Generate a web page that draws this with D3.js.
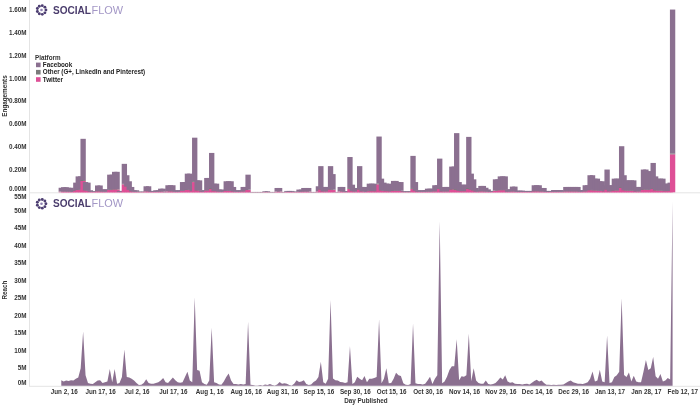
<!DOCTYPE html>
<html><head><meta charset="utf-8">
<script src="https://cdn.jsdelivr.net/npm/d3@7"></script>
<style>
body{margin:0;background:#fff}
svg{display:block;will-change:transform}
text{font-family:"Liberation Sans",Arial,sans-serif;-webkit-font-smoothing:antialiased}
</style>
</head><body>
<svg id="c" width="700" height="405"></svg>
<script>
// ---------- DATA (values in millions) ----------
const startDate = "2016-06-01"; // first Day Published; one value per consecutive day
const platforms = ["Facebook", "Other (G+, LinkedIn and Pinterest)", "Twitter"];
const facebook = [
0.033,0.037,0.037,0.033,0.033,0.016,0.071,0.116,0.116,0.362,
0.073,0.071,0.013,0.006,0.006,0.05,0.05,0.02,0.02,0.02,
0.131,0.131,0.151,0.151,0.008,0.008,0.176,0.096,0.075,0.037,
0.013,0.013,0.003,0.003,0.003,0.043,0.043,0.008,0.008,0.013,
0.013,0.024,0.024,0.002,0.052,0.052,0.052,0.013,0.013,0.013,
0.076,0.076,0.14,0.14,0.048,0.382,0.086,0.086,0.013,0.013,
0.107,0.107,0.308,0.064,0.064,0.02,0.018,0.018,0.083,0.083,
0.083,0.038,0.013,0.013,0.013,0.038,0.038,0.131,0.001,0.001,
0.001,0.001,0.001,0.001,0.006,0.006,0.001,0.001,0.001,0.03,
0.03,0.001,0.001,0.008,0.008,0.008,0.003,0.003,0.019,0.019,
0.03,0.03,0.03,0.001,0.001,0.001,0.043,0.201,0.038,0.038,
0.038,0.201,0.136,0.001,0.001,0.038,0.038,0.007,0.007,0.272,
0.055,0.03,0.03,0.201,0.038,0.038,0.011,0.064,0.064,0.064,
0.051,0.412,0.101,0.071,0.064,0.064,0.038,0.084,0.084,0.076,
0.076,0.006,0.006,0.006,0.006,0.282,0.076,0.013,0.013,0.013,
0.015,0.025,0.025,0.025,0.052,0.052,0.262,0.03,0.038,0.038,
0.038,0.197,0.197,0.492,0.076,0.055,0.055,0.055,0.449,0.14,
0.095,0.03,0.013,0.046,0.046,0.032,0.021,0.008,0.008,0.098,
0.098,0.118,0.118,0.118,0.021,0.021,0.041,0.041,0.011,0.011,
0.011,0.008,0.008,0.008,0.008,0.052,0.052,0.052,0.03,0.03,
0.008,0.008,0.008,0.015,0.015,0.015,0.015,0.006,0.038,0.038,
0.038,0.038,0.038,0.038,0.015,0.015,0.052,0.052,0.128,0.128,
0.101,0.101,0.083,0.083,0.05,0.171,0.052,0.052,0.101,0.101,
0.101,0.357,0.128,0.088,0.088,0.088,0.088,0.038,0.038,0.038,
0.174,0.174,0.161,0.161,0.224,0.12,0.102,0.102,0.102,0.064,
0.064,0.072,1.264];
const other = [
0.002,0.002,0.002,0.002,0.002,0.001,0.002,0.004,0.004,0.008,
0.002,0.002,0.001,0.001,0.001,0.002,0.002,0.001,0.001,0.001,
0.004,0.004,0.004,0.004,0.001,0.001,0.004,0.004,0.002,0.002,
0.001,0.001,0.001,0.001,0.001,0.002,0.002,0.001,0.001,0.001,
0.001,0.002,0.002,0.001,0.002,0.002,0.002,0.001,0.001,0.001,
0.002,0.002,0.004,0.004,0.002,0.008,0.004,0.004,0.001,0.001,
0.004,0.004,0.008,0.002,0.002,0.001,0.001,0.001,0.002,0.002,
0.002,0.002,0.001,0.001,0.001,0.002,0.002,0.004,0.001,0.001,
0.001,0.001,0.001,0.001,0.001,0.001,0.001,0.001,0.001,0.002,
0.002,0.001,0.001,0.001,0.001,0.001,0.001,0.001,0.001,0.001,
0.002,0.002,0.002,0.001,0.001,0.001,0.002,0.004,0.002,0.002,
0.002,0.004,0.004,0.001,0.001,0.002,0.002,0.001,0.001,0.008,
0.002,0.002,0.002,0.004,0.002,0.002,0.001,0.002,0.002,0.002,
0.002,0.008,0.004,0.002,0.002,0.002,0.002,0.004,0.004,0.002,
0.002,0.001,0.001,0.001,0.001,0.008,0.002,0.001,0.001,0.001,
0.001,0.002,0.002,0.002,0.002,0.002,0.004,0.002,0.002,0.002,
0.002,0.004,0.004,0.008,0.002,0.002,0.002,0.002,0.008,0.004,
0.004,0.002,0.001,0.002,0.002,0.002,0.001,0.001,0.001,0.004,
0.004,0.004,0.004,0.004,0.001,0.001,0.002,0.002,0.001,0.001,
0.001,0.001,0.001,0.001,0.001,0.002,0.002,0.002,0.002,0.002,
0.001,0.001,0.001,0.001,0.001,0.001,0.001,0.001,0.002,0.002,
0.002,0.002,0.002,0.002,0.001,0.001,0.002,0.002,0.004,0.004,
0.004,0.004,0.002,0.002,0.002,0.004,0.002,0.002,0.004,0.004,
0.004,0.008,0.004,0.004,0.004,0.004,0.004,0.002,0.002,0.002,
0.004,0.004,0.004,0.004,0.004,0.004,0.004,0.004,0.004,0.002,
0.002,0.002,0.008];
const twitter = [
0.005,0.006,0.006,0.005,0.005,0.003,0.012,0.02,0.02,0.10,
0.015,0.012,0.004,0.003,0.003,0.008,0.008,0.005,0.005,0.005,
0.02,0.02,0.025,0.025,0.003,0.003,0.07,0.05,0.02,0.008,
0.004,0.004,0.002,0.002,0.002,0.008,0.008,0.003,0.003,0.004,
0.004,0.006,0.006,0.001,0.008,0.008,0.008,0.004,0.004,0.004,
0.012,0.012,0.02,0.02,0.01,0.09,0.015,0.015,0.004,0.004,
0.015,0.015,0.03,0.01,0.01,0.005,0.004,0.004,0.012,0.012,
0.012,0.007,0.004,0.004,0.004,0.007,0.007,0.02,0.001,0.001,
0.001,0.001,0.001,0.001,0.002,0.002,0.001,0.001,0.001,0.006,
0.006,0.001,0.001,0.003,0.003,0.003,0.002,0.002,0.004,0.004,
0.006,0.006,0.006,0.001,0.001,0.001,0.008,0.025,0.007,0.007,
0.007,0.025,0.02,0.001,0.001,0.007,0.007,0.002,0.002,0.03,
0.01,0.006,0.006,0.025,0.007,0.007,0.003,0.01,0.01,0.01,
0.009,0.07,0.015,0.012,0.01,0.01,0.007,0.012,0.012,0.012,
0.012,0.002,0.002,0.002,0.002,0.03,0.012,0.004,0.004,0.004,
0.004,0.005,0.005,0.005,0.008,0.008,0.03,0.006,0.007,0.007,
0.007,0.025,0.025,0.02,0.012,0.01,0.01,0.01,0.03,0.02,
0.015,0.006,0.004,0.008,0.008,0.006,0.004,0.003,0.003,0.012,
0.012,0.018,0.018,0.018,0.004,0.004,0.007,0.007,0.003,0.003,
0.003,0.003,0.003,0.003,0.003,0.008,0.008,0.008,0.006,0.006,
0.003,0.003,0.003,0.004,0.004,0.004,0.004,0.002,0.007,0.007,
0.007,0.007,0.007,0.007,0.004,0.004,0.008,0.008,0.018,0.018,
0.015,0.015,0.012,0.012,0.008,0.025,0.008,0.008,0.015,0.015,
0.015,0.04,0.018,0.013,0.013,0.013,0.013,0.007,0.007,0.007,
0.022,0.022,0.02,0.02,0.03,0.016,0.014,0.014,0.014,0.01,
0.01,0.011,0.334];
const reach = [
1.6,1.2,1.5,1.4,1.6,1.5,2.0,2.4,5.0,15.5,
3.0,0.8,0.6,0.5,1.0,1.5,1.6,0.8,1.0,1.2,
4.8,1.0,4.8,0.6,0.8,2.5,10.4,2.5,2.4,2.0,
1.5,0.8,0.2,0.3,0.8,1.9,0.8,0.6,0.6,0.8,
1.0,1.5,2.2,1.0,0.8,1.6,2.4,1.6,1.0,0.9,
1.0,2.5,4.0,1.5,1.0,25.3,4.5,4.3,1.0,0.5,
0.3,1.5,16.6,1.0,0.8,0.4,0.3,1.2,2.5,3.5,
1.5,0.5,0.5,0.4,0.5,0.4,0.5,18.3,0.3,0.2,
0.1,0.1,0.2,0.1,0.4,0.2,0.5,0.2,0.1,0.4,
1.1,0.6,0.7,0.6,0.2,0.1,0.6,1.6,1.1,1.2,
1.6,0.5,0.2,0.4,1.1,1.5,2.5,6.9,1.0,0.6,
2.0,24.5,2.1,1.6,1.5,1.1,1.0,0.8,1.0,11.3,
0.5,1.0,2.6,2.0,1.6,2.8,1.0,2.0,2.0,2.2,
2.5,19.0,0.7,2.0,5.0,0.7,0.8,2.0,3.7,3.0,
2.8,0.7,0.3,0.2,0.5,17.8,0.7,0.5,0.5,0.4,
0.6,1.5,2.6,0.5,2.0,3.0,47.0,0.7,1.2,2.6,
4.5,5.6,5.6,13.3,1.6,2.7,2.6,3.0,14.9,1.3,
5.0,1.5,0.8,0.6,0.6,1.5,0.5,0.4,0.5,0.8,
1.5,2.4,1.8,3.0,1.2,0.9,1.0,0.6,0.5,0.5,
0.4,0.5,0.6,0.4,0.9,1.4,1.7,1.2,1.5,0.8,
0.3,0.3,0.2,0.3,0.2,0.3,0.3,0.4,0.8,1.2,
1.5,1.0,0.8,0.6,0.6,0.5,0.7,1.0,2.0,4.1,
1.2,1.5,4.6,1.2,1.0,14.4,0.8,1.0,2.5,3.0,
4.0,25.0,3.1,2.5,3.8,1.2,2.9,1.2,1.0,1.0,
4.0,7.4,4.5,5.0,8.2,2.7,2.0,3.4,1.2,1.5,
2.2,1.8,52.7];
const engagementTicks = [0, 0.2, 0.4, 0.6, 0.8, 1.0, 1.2, 1.4, 1.6];
const reachTicks = [0, 5, 10, 15, 20, 25, 30, 35, 40, 45, 50, 55];
const dateTicks = ["2016-06-02","2016-06-17","2016-07-02","2016-07-17","2016-08-01","2016-08-16",
  "2016-08-31","2016-09-15","2016-09-30","2016-10-15","2016-10-30","2016-11-14","2016-11-29",
  "2016-12-14","2016-12-29","2017-01-13","2017-01-28","2017-02-12"];

// ---------- STYLE ----------
const colors = {"Facebook": "#8b7090", "Other (G+, LinkedIn and Pinterest)": "#7a7a7a", "Twitter": "#de4f96"};
const axisGrey = "#e4e4e4", labelCol = "#333";

const svg = d3.select("#c");
const parse = d3.utcParse("%Y-%m-%d");
const t0 = parse(startDate);
const DAY = 864e5;
const rows = facebook.map((v, i) => ({
  date: d3.utcDay.offset(t0, i),
  "Facebook": v, "Other (G+, LinkedIn and Pinterest)": other[i], "Twitter": twitter[i]
}));

const x = d3.scaleUtc()
  .domain([new Date(t0.getTime() - 13.31 * DAY), new Date(t0.getTime() + 263.3 * DAY)])
  .range([29, 700]);
const dayPx = x(d3.utcDay.offset(t0, 1)) - x(t0);
const barW = dayPx * 2.2;

const yE = d3.scaleLinear().domain([0, 1.69]).range([192.3, 0]);
const yR = d3.scaleLinear().domain([0, 55]).range([385.8, 193.3]);

// axis rules
svg.append("line").attr("x1", 29.5).attr("x2", 29.5).attr("y1", 0).attr("y2", 386).attr("stroke", axisGrey);
svg.append("line").attr("x1", 29).attr("x2", 700).attr("y1", 192.8).attr("y2", 192.8).attr("stroke", axisGrey);
svg.append("line").attr("x1", 29).attr("x2", 700).attr("y1", 386.3).attr("y2", 386.3).attr("stroke", axisGrey);

// ---------- TOP: stacked bars ----------
const keys = ["Twitter", "Other (G+, LinkedIn and Pinterest)", "Facebook"];
const stacked = d3.stack().keys(keys)(rows);
const dayG = svg.append("g").selectAll("g").data(rows).join("g");
dayG.each(function(r, i) {
  const g = d3.select(this);
  stacked.forEach(layer => {
    const s = layer[i];
    g.append("rect")
      .attr("x", x(r.date) - barW / 2)
      .attr("width", barW)
      .attr("y", yE(s[1]))
      .attr("height", Math.max(0, yE(s[0]) - yE(s[1])))
      .attr("fill", colors[layer.key]);
  });
});

// ---------- BOTTOM: reach area ----------
const area = d3.area()
  .x((d, i) => x(d3.utcDay.offset(t0, i)))
  .y0(yR(0))
  .y1(d => yR(d));
svg.append("path").datum(reach).attr("d", area).attr("fill", "#8b7090");

// ---------- AXES ----------
function yAxis(scale, ticks, fmt, top, bottom) {
  const g = svg.append("g").attr("transform", "translate(29,0)")
    .call(d3.axisLeft(scale).tickValues(ticks).tickFormat(fmt).tickSize(0).tickPadding(2.5));
  g.select(".domain").remove();
  g.selectAll(".tick").attr("transform", d => {
    const yy = Math.max(top + 3.6, Math.min(bottom - 3.2, scale(d)));
    return `translate(0,${yy})`;
  });
  g.selectAll("text").attr("font-size", 6.3).attr("font-weight", "bold").attr("fill", labelCol)
    .attr("font-family", '"Liberation Sans", Arial, sans-serif');
}
yAxis(yE, engagementTicks, d => d3.format(".2f")(d) + "M", 0, 192.5);
yAxis(yR, reachTicks, d => d + "M", 193.3, 385.8);

const xa = svg.append("g").attr("transform", "translate(0,386)")
  .call(d3.axisBottom(x).tickValues(dateTicks.map(parse)).tickFormat(d3.utcFormat("%b %-d, %y")).tickSize(0).tickPadding(4));
xa.select(".domain").remove();
xa.selectAll("text").attr("font-size", 6.3).attr("font-weight", "bold").attr("fill", labelCol)
  .attr("font-family", '"Liberation Sans", Arial, sans-serif');

// axis titles
const title = (tx, ty, rot, s) => svg.append("text")
  .attr("transform", `translate(${tx},${ty}) rotate(${rot})`)
  .attr("text-anchor", "middle").attr("font-size", 6.3).attr("font-weight", "bold")
  .attr("fill", labelCol).text(s);
title(366, 402.5, 0, "Day Published");
title(7, 96, -90, "Engagements");
title(7.3, 290, -90, "Reach");

// ---------- LOGOS ----------
function logo(cy) {
  const g = svg.append("g");
  const n = 9;
  for (let k = 0; k < n; k++) {
    const a = k / n * 2 * Math.PI;
    g.append("circle").attr("cx", 41.5 + 4.4 * Math.cos(a)).attr("cy", cy + 4.4 * Math.sin(a))
      .attr("r", 1.45).attr("fill", "#4d3e72");
  }
  g.append("circle").attr("cx", 41.5).attr("cy", cy).attr("r", 1.3).attr("fill", "#8e80b0");
  g.append("text").attr("x", 53).attr("y", cy + 3.6).attr("font-family", "Lato, 'Open Sans', sans-serif")
    .attr("font-size", 10.8).attr("font-weight", "bold").attr("fill", "#4a3c6c")
    .attr("textLength", 38).attr("lengthAdjust", "spacingAndGlyphs").text("SOCIAL");
  g.append("text").attr("x", 91.5).attr("y", cy + 3.6).attr("font-family", "Lato, 'Open Sans', sans-serif")
    .attr("font-size", 10.8).attr("font-weight", "normal").attr("fill", "#a397c6")
    .attr("textLength", 31.5).attr("lengthAdjust", "spacingAndGlyphs").text("FLOW");
}
logo(10);
logo(203.8);

// ---------- LEGEND ----------
const lg = svg.append("g").attr("transform", "translate(35,0)");
lg.append("text").attr("x", 0).attr("y", 59.6).attr("font-size", 6.3).attr("fill", labelCol)
  .attr("font-weight", "bold").text("Platform");
platforms.forEach((p, i) => {
  const yy = 62.6 + i * 7.3;
  lg.append("rect").attr("x", 1).attr("y", yy).attr("width", 4.6).attr("height", 4.6).attr("fill", colors[p]);
  lg.append("text").attr("x", 7.8).attr("y", yy + 4.4).attr("font-size", 6.3).attr("font-weight", "bold")
    .attr("fill", "#222").text(p);
});
</script>
</body></html>
